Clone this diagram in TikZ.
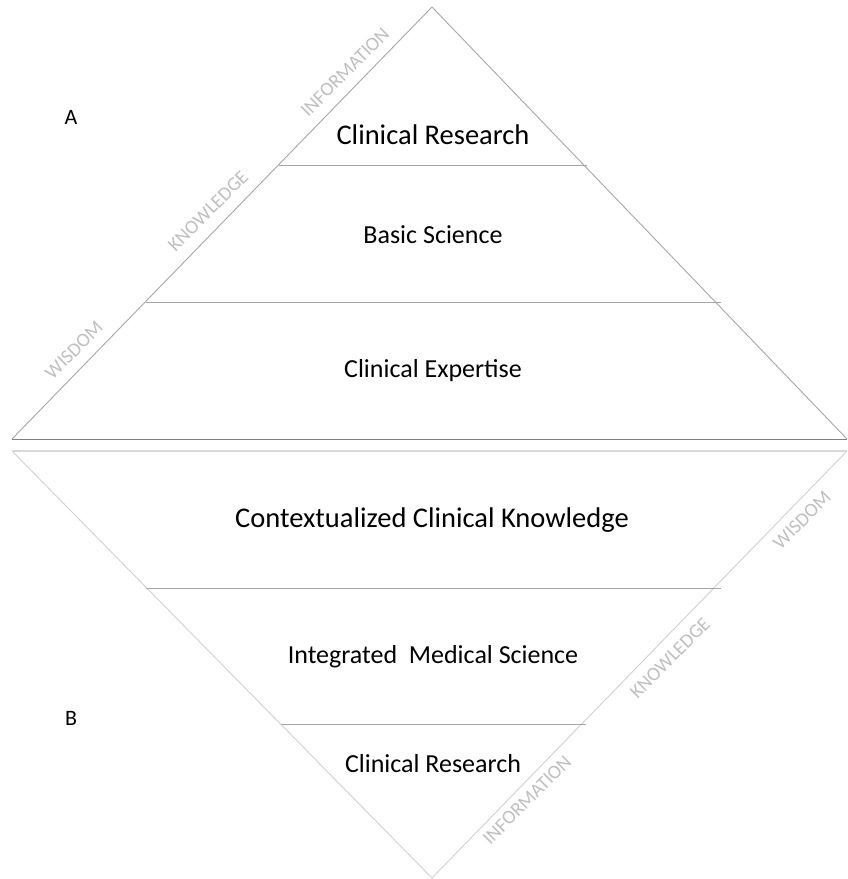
\documentclass[tikz,border=0pt]{standalone}
\usepackage{fontspec}
\setmainfont{Carlito}
\usepackage{xcolor}
\usetikzlibrary{positioning, calc}

\definecolor{edgegray}{HTML}{A6A6A6}
\definecolor{basegray}{HTML}{7F7F7F}
\definecolor{lightgray}{HTML}{D0D0D0}
\definecolor{sidegray}{HTML}{BFBFBF}

\begin{document}
\begin{tikzpicture}[
    x=1pt, y=-1pt,
    edge/.style={draw=edgegray, line width=0.9pt},
    lowedge/.style={draw=lightgray, line width=0.9pt},
    level/.style={font=\fontsize{26}{30}\selectfont, text=black},
    bigl/.style={font=\fontsize{28.5}{32}\selectfont, text=black},
    side/.style={font=\fontsize{19.5}{22}\selectfont, text=sidegray, rotate=45},
    letter/.style={font=\fontsize{22}{26}\selectfont, text=black}
]
    \useasboundingbox (0,0) rectangle (847,879);

    % Triangle A
    \coordinate (atop) at (432,7);
    \coordinate (aleft) at (12,439);
    \coordinate (aright) at (847,439);
    \path [edge] (aleft) -- (atop) -- (aright);
    \path [draw=basegray, line width=1pt] (aleft) -- (aright);
    \path [edge] (279,165) -- (587,165);
    \path [edge] (146,302) -- (721,302);

    % Triangle B
    \coordinate (bbot) at (432,878);
    \coordinate (bleft) at (12,451);
    \coordinate (bright) at (847,451);
    \path [lowedge] (bleft) -- (bbot) -- (bright);
    \path [draw=lightgray!80, line width=1.2pt] (bleft) -- (bright);
    \path [edge] (146,588) -- (721,588);
    \path [edge] (281,724) -- (586,724);

    % Labels A
    \node [letter] (la) at (71,117) {A};
    \node [bigl] (cr) at (433,135) {Clinical Research};
    \node [level] (bs) at (433,235) {Basic Science};
    \node [level] (ce) at (433,371) {Clinical Expertise};
    \node [side] (infoa) at (345,72) {INFORMATION};
    \node [side] (knowa) at (208,211) {KNOWLEDGE};
    \node [side] (wisa) at (74,350) {WISDOM};

    % Labels B
    \node [letter] (lb) at (71,718) {B};
    \node [bigl] (cck) at (432,520) {Contextualized Clinical Knowledge};
    \node [level] (ims) at (433,657) {Integrated\ \ Medical Science};
    \node [level] (crb) at (433,764) {Clinical Research};
    \node [side] (wisb) at (802,520) {WISDOM};
    \node [side] (knowb) at (670,658) {KNOWLEDGE};
    \node [side] (infob) at (527,800) {INFORMATION};
\end{tikzpicture}
\end{document}
